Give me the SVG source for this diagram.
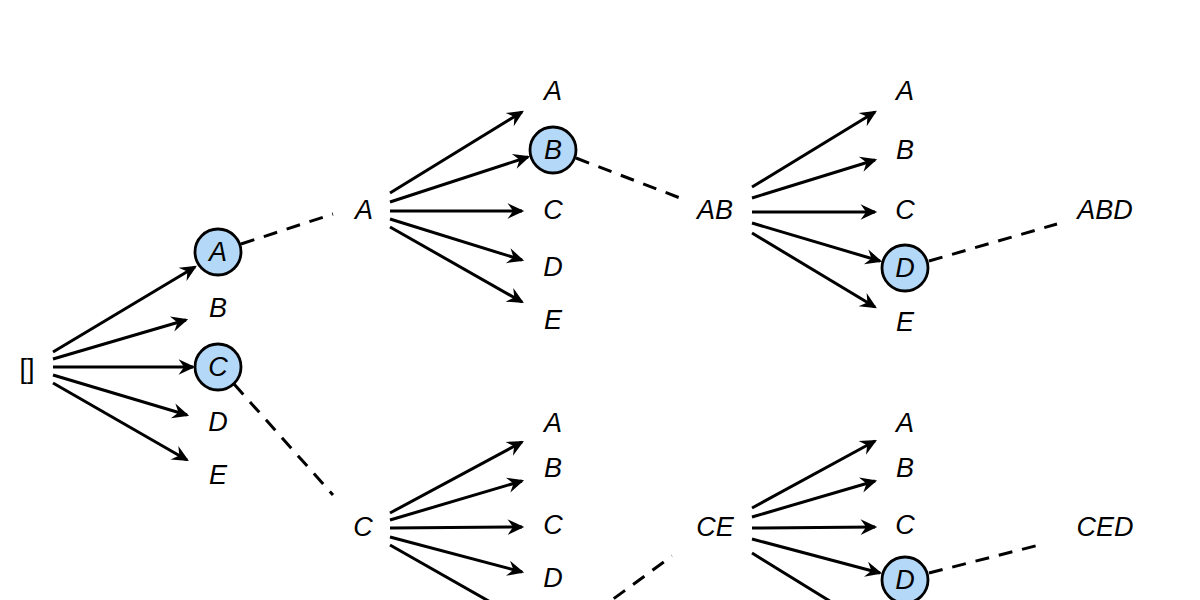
<svg xmlns="http://www.w3.org/2000/svg" width="1200" height="600" viewBox="0 0 1200 600">
<style>
text{font-family:"Liberation Sans",Arial,sans-serif;font-size:27px;font-style:italic;text-anchor:middle;fill:#000}
text.up{font-style:normal}
.arr{stroke:#000;stroke-width:3;fill:none;marker-end:url(#ah)}
.dash{stroke:#000;stroke-width:3;fill:none;stroke-dasharray:14,10}
circle{fill:#b4d8f8;stroke:#000;stroke-width:2.8}
</style>
<defs>
<marker id="ah" markerUnits="userSpaceOnUse" markerWidth="20" markerHeight="20" refX="0" refY="0" viewBox="-14 -8 18 16" orient="auto" overflow="visible">
<path d="M2,0 L-13,-7 L-8,0 L-13,7 z" fill="#000"/>
</marker>
</defs>
<rect width="1200" height="600" fill="#fff"/>
<g id="connectors">
<line class="arr" x1="53" y1="352" x2="195" y2="267"/>
<line class="arr" x1="53" y1="359" x2="186" y2="320"/>
<line class="arr" x1="53" y1="367" x2="193" y2="367"/>
<line class="arr" x1="53" y1="375" x2="187" y2="415"/>
<line class="arr" x1="53" y1="383" x2="187" y2="460"/>
<line class="dash" x1="241" y1="244" x2="333" y2="214"/>
<line class="dash" x1="234" y1="384" x2="333" y2="495"/>
<line class="arr" x1="390" y1="193" x2="522" y2="112"/>
<line class="arr" x1="390" y1="202" x2="528" y2="157"/>
<line class="arr" x1="390" y1="211" x2="522" y2="211"/>
<line class="arr" x1="390" y1="219" x2="522" y2="260"/>
<line class="arr" x1="390" y1="227" x2="522" y2="302"/>
<line class="dash" x1="576" y1="158" x2="680" y2="198"/>
<line class="arr" x1="390" y1="513" x2="522" y2="442"/>
<line class="arr" x1="390" y1="520" x2="522" y2="481"/>
<line class="arr" x1="390" y1="528" x2="522" y2="527"/>
<line class="arr" x1="390" y1="537" x2="522" y2="572"/>
<line class="arr" x1="390" y1="545" x2="522" y2="620"/>
<line class="dash" x1="575" y1="627" x2="672" y2="556"/>
<line class="arr" x1="752" y1="187" x2="875" y2="112"/>
<line class="arr" x1="752" y1="198" x2="875" y2="160"/>
<line class="arr" x1="752" y1="212" x2="875" y2="212"/>
<line class="arr" x1="752" y1="223" x2="880" y2="261"/>
<line class="arr" x1="752" y1="233" x2="875" y2="307"/>
<line class="dash" x1="929" y1="261" x2="1057" y2="224"/>
<line class="arr" x1="752" y1="508" x2="875" y2="441"/>
<line class="arr" x1="752" y1="517" x2="875" y2="481"/>
<line class="arr" x1="752" y1="528" x2="875" y2="527"/>
<line class="arr" x1="752" y1="539" x2="880" y2="573"/>
<line class="arr" x1="752" y1="553" x2="875" y2="629"/>
<line class="dash" x1="929" y1="573" x2="1043" y2="544"/>
</g>
<g id="root"><text class="up" x="27" y="378">[]</text></g>
<g id="l1-A"><circle cx="218" cy="252" r="23"/><text x="218" y="261">A</text></g>
<g id="l1-B"><text x="218" y="317">B</text></g>
<g id="l1-C"><circle cx="218" cy="367" r="23"/><text x="218" y="376">C</text></g>
<g id="l1-D"><text x="218" y="431">D</text></g>
<g id="l1-E"><text x="218" y="484">E</text></g>
<g id="seq-A"><text x="364" y="219">A</text></g>
<g id="seq-C"><text x="363" y="536">C</text></g>
<g id="a-A"><text x="553" y="100">A</text></g>
<g id="a-B"><circle cx="553" cy="150" r="23"/><text x="553" y="159">B</text></g>
<g id="a-C"><text x="553" y="219">C</text></g>
<g id="a-D"><text x="553" y="276">D</text></g>
<g id="a-E"><text x="553" y="329">E</text></g>
<g id="c-A"><text x="553" y="432">A</text></g>
<g id="c-B"><text x="553" y="477">B</text></g>
<g id="c-C"><text x="553" y="534">C</text></g>
<g id="c-D"><text x="553" y="587">D</text></g>
<g id="seq-AB"><text x="715" y="219">AB</text></g>
<g id="seq-CE"><text x="715" y="536">CE</text></g>
<g id="ab-A"><text x="905" y="100">A</text></g>
<g id="ab-B"><text x="905" y="159">B</text></g>
<g id="ab-C"><text x="905" y="219">C</text></g>
<g id="ab-D"><circle cx="905" cy="268" r="23"/><text x="905" y="277">D</text></g>
<g id="ab-E"><text x="905" y="331">E</text></g>
<g id="ce-A"><text x="905" y="432">A</text></g>
<g id="ce-B"><text x="905" y="477">B</text></g>
<g id="ce-C"><text x="905" y="534">C</text></g>
<g id="ce-D"><circle cx="905" cy="580" r="23"/><text x="905" y="589">D</text></g>
<g id="seq-ABD"><text x="1105" y="219">ABD</text></g>
<g id="seq-CED"><text x="1105" y="536">CED</text></g>
</svg>
